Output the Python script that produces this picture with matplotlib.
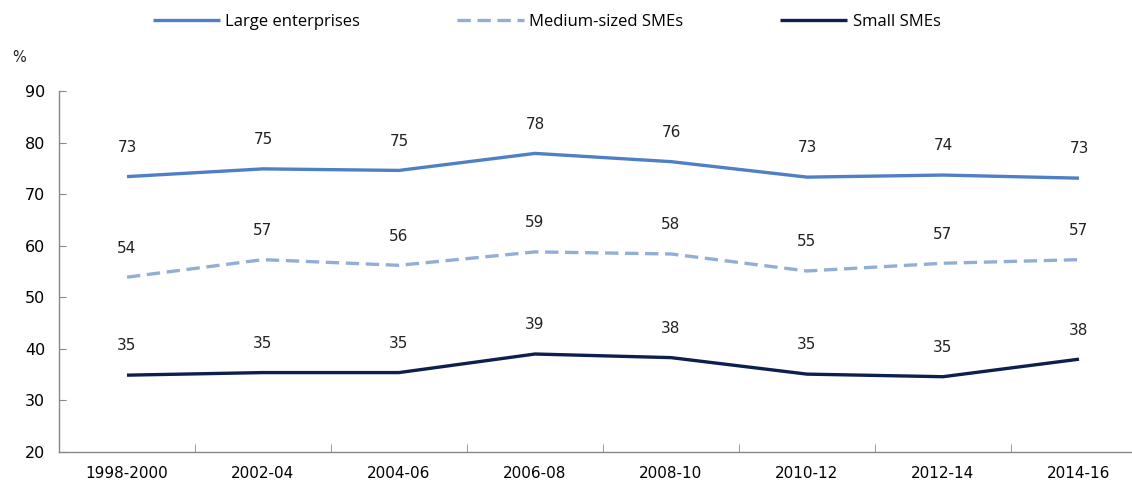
import numpy as np
import matplotlib.pyplot as plt
from matplotlib.ticker import FixedLocator

# données (en %)
periods = ["1998-2000", "2002-04", "2004-06", "2006-08",
           "2008-10", "2010-12", "2012-14", "2014-16"]
large = [73.4, 74.9, 74.6, 77.9, 76.3, 73.3, 73.7, 73.1]
medium = [53.9, 57.3, 56.2, 58.8, 58.4, 55.1, 56.6, 57.3]
small = [34.9, 35.4, 35.4, 39.0, 38.3, 35.1, 34.6, 38.0]

series = [
    ("Large enterprises", large, "#4F7FC4", "-"),
    ("Medium-sized SMEs", medium, "#93AED6", "--"),
    ("Small SMEs", small, "#0D1F4C", "-"),
]

fig = plt.figure(figsize=(11.32, 4.88), dpi=100)
ax = fig.add_axes([59 / 1132, 36 / 488, 1088 / 1132, 361 / 488])

x = np.arange(len(periods))
handles = []
for name, vals, color, ls in series:
    h, = ax.plot(x, vals, color=color, linestyle=ls, lw=2.4,
                 solid_capstyle="butt", label=name)
    if ls == "--":
        h.set_dashes((4.0, 2.0))
    handles.append(h)
    for xi, v in zip(x, vals):
        ax.annotate(f"{round(v)}", (xi, v), xytext=(0, 21),
                    textcoords="offset points", ha="center", va="center",
                    fontsize=11, family="DejaVu Sans", color="#222222")

ax.set_xlim(-0.5, len(periods) - 0.5)
ax.set_ylim(20, 90)
ax.set_yticks(range(20, 91, 10))
ax.set_xticks(x)
ax.set_xticklabels(periods)
ax.xaxis.set_minor_locator(FixedLocator(np.arange(0.5, len(periods) - 0.5, 1)))
ax.tick_params(axis="x", which="major", length=0, pad=10, labelsize=11)
ax.tick_params(axis="x", which="minor", direction="in", length=6,
               color="#888888")
ax.tick_params(axis="y", direction="in", length=5, color="#888888",
               pad=10, labelsize=11.5)

for s in ["top", "right"]:
    ax.spines[s].set_visible(False)
for s in ["left", "bottom"]:
    ax.spines[s].set_color("#888888")
    ax.spines[s].set_linewidth(1)

fig.text(12 / 1132, 1 - 58 / 488, "%", fontsize=10.5, va="center",
         ha="left", color="#222222")

fig.legend(handles=handles, loc="center", bbox_to_anchor=(0.483, 1 - 22 / 488),
           ncol=3, frameon=False, handlelength=4.0, columnspacing=5.8,
           handletextpad=0.35, prop={"family": "Open Sans", "size": 12})

fig.savefig("out.png", dpi=100)
